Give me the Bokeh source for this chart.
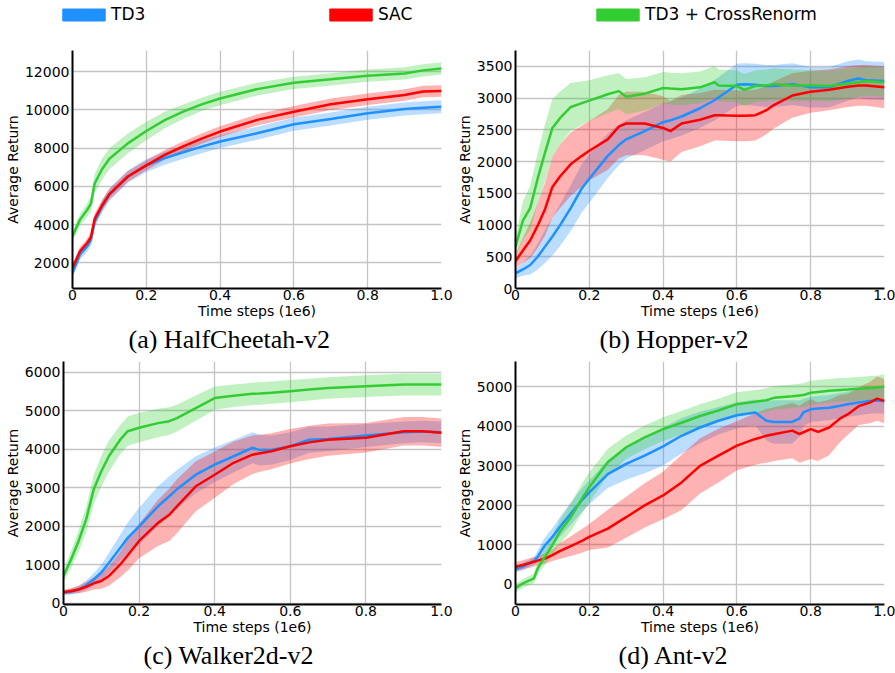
import numpy as np
from bokeh.plotting import figure
from bokeh.layouts import column, row
from bokeh.models import Range1d, FixedTicker, Title, Legend, LegendItem
from bokeh.embed import file_html
from bokeh.resources import INLINE

# ---------------- data ----------------
series_names = ["TD3", "SAC", "TD3 + CrossRenorm"]
series_colors = ["#1E90FF", "#FF0000", "#32CD32"]

x_ticks = [0, 0.2, 0.4, 0.6, 0.8, 1.0]
x_tick_labels = ["0", "0.2", "0.4", "0.6", "0.8", "1.0"]

# (a) HalfCheetah-v2
x_a = [0, 0.02, 0.04, 0.05, 0.06, 0.08, 0.1, 0.15, 0.2, 0.25, 0.3, 0.35, 0.4, 0.5, 0.6, 0.7, 0.8, 0.9, 0.95, 1.0]
td3_a = [1480, 2430, 2870, 3200, 4150, 4950, 5570, 6520, 7100, 7480, 7790, 8080, 8350, 8780, 9250, 9530, 9830, 10050, 10120, 10170]
td3_a_std = [250, 270, 290, 300, 320, 330, 330, 330, 340, 340, 340, 340, 340, 340, 340, 340, 340, 340, 340, 340]
sac_a = [1740, 2600, 3040, 3350, 4300, 5000, 5600, 6520, 7100, 7650, 8090, 8500, 8870, 9480, 9910, 10300, 10560, 10780, 10960, 10990]
sac_a_std = [200, 220, 240, 250, 260, 270, 270, 270, 260, 260, 260, 270, 280, 290, 300, 300, 300, 300, 300, 300]
cr_a = [3400, 4250, 4780, 5100, 6150, 6900, 7450, 8250, 8900, 9470, 9910, 10290, 10600, 11090, 11420, 11600, 11790, 11910, 12070, 12170]
cr_a_std = [250, 300, 350, 400, 500, 550, 550, 520, 480, 430, 380, 350, 350, 330, 320, 320, 320, 320, 320, 320]
y_ticks_a = [2000, 4000, 6000, 8000, 10000, 12000]

# (b) Hopper-v2
x_b = [0, 0.02, 0.04, 0.06, 0.08, 0.1, 0.12, 0.15, 0.18, 0.2, 0.25, 0.28, 0.3, 0.35, 0.4, 0.42,
       0.45, 0.5, 0.54, 0.55, 0.6, 0.62, 0.65, 0.68, 0.7, 0.75, 0.8, 0.85, 0.9, 0.93, 0.95, 1.0]
td3_b = [240, 300, 370, 500, 660, 820, 990, 1270, 1580, 1730, 2090, 2260, 2350, 2480, 2620, 2650,
         2710, 2840, 2970, 3010, 3210, 3220, 3210, 3190, 3190, 3220, 3170, 3170, 3270, 3310, 3280, 3270]
td3_b_std = [80, 100, 150, 200, 260, 300, 330, 360, 380, 380, 350, 320, 300, 300, 300, 300,
             300, 310, 320, 320, 330, 330, 330, 330, 330, 330, 320, 320, 310, 300, 300, 300]
sac_b = [430, 600, 760, 990, 1250, 1600, 1760, 1960, 2090, 2170, 2350, 2550, 2600, 2600, 2530, 2480,
         2600, 2660, 2730, 2730, 2720, 2720, 2730, 2810, 2890, 3040, 3100, 3130, 3180, 3200, 3200, 3170]
sac_b_std = [100, 200, 280, 350, 420, 480, 500, 500, 480, 470, 480, 500, 500, 500, 500, 480,
             450, 420, 400, 400, 400, 400, 400, 380, 370, 350, 330, 320, 320, 320, 320, 330]
cr_b = [660, 1070, 1270, 1730, 2140, 2530, 2680, 2860, 2920, 2960, 3060, 3110, 3020, 3070, 3160, 3150,
        3140, 3170, 3250, 3200, 3190, 3130, 3190, 3200, 3220, 3200, 3200, 3190, 3230, 3250, 3270, 3250]
cr_b_std = [150, 300, 350, 400, 450, 450, 420, 380, 340, 320, 300, 280, 280, 260, 250, 250,
            250, 250, 250, 250, 250, 250, 250, 250, 250, 250, 240, 240, 240, 230, 230, 230]
y_ticks_b = [0, 500, 1000, 1500, 2000, 2500, 3000, 3500]

# (c) Walker2d-v2
x_c = [0, 0.02, 0.04, 0.06, 0.08, 0.1, 0.12, 0.15, 0.17, 0.2, 0.25, 0.28, 0.3, 0.35, 0.4, 0.45,
       0.5, 0.52, 0.55, 0.6, 0.65, 0.7, 0.8, 0.9, 0.95, 1.0]
td3_c = [280, 300, 360, 470, 620, 800, 1050, 1440, 1700, 2000, 2520, 2780, 2960, 3340, 3600, 3820,
         4040, 3980, 3980, 4080, 4250, 4270, 4360, 4440, 4460, 4440]
td3_c_std = [60, 70, 90, 120, 160, 200, 260, 340, 400, 480, 520, 520, 500, 480, 450, 420,
             400, 400, 380, 360, 340, 320, 300, 280, 280, 280]
sac_c = [290, 320, 360, 430, 520, 580, 710, 1010, 1250, 1620, 2090, 2300, 2520, 3040, 3340, 3650,
         3860, 3900, 3950, 4080, 4180, 4250, 4300, 4470, 4470, 4430]
sac_c_std = [60, 80, 100, 130, 160, 200, 250, 330, 400, 450, 600, 680, 700, 650, 600, 550,
             500, 480, 470, 450, 430, 420, 380, 370, 370, 370]
cr_c = [710, 1140, 1620, 2180, 2960, 3430, 3820, 4250, 4470, 4560, 4680, 4730, 4810, 5070, 5330, 5390,
        5440, 5450, 5470, 5510, 5550, 5590, 5640, 5680, 5680, 5680]
cr_c_std = [150, 220, 280, 330, 380, 400, 400, 380, 380, 380, 370, 360, 350, 330, 300, 290,
            290, 290, 290, 290, 280, 280, 280, 280, 280, 280]
y_ticks_c = [0, 1000, 2000, 3000, 4000, 5000, 6000]

# (d) Ant-v2
x_d = [0, 0.02, 0.05, 0.06, 0.08, 0.1, 0.12, 0.15, 0.18, 0.2, 0.25, 0.3, 0.35, 0.4, 0.45, 0.5, 0.55,
       0.6, 0.65, 0.68, 0.7, 0.75, 0.77, 0.78, 0.8, 0.82, 0.85, 0.88, 0.9, 0.93, 0.96, 0.98, 1.0]
td3_d = [390, 450, 590, 700, 990, 1200, 1450, 1790, 2130, 2330, 2790, 3050, 3260, 3490, 3760, 3970, 4140,
         4280, 4350, 4140, 4110, 4110, 4200, 4350, 4430, 4450, 4470, 4520, 4560, 4600, 4640, 4650, 4640]
td3_d_std = [80, 90, 100, 150, 200, 220, 250, 280, 300, 300, 350, 400, 450, 480, 450, 400, 350,
             330, 330, 500, 550, 550, 450, 350, 320, 320, 320, 320, 320, 320, 320, 320, 320]
sac_d = [445, 490, 570, 600, 650, 740, 840, 970, 1100, 1200, 1410, 1700, 2000, 2250, 2580, 3000, 3260,
         3510, 3680, 3760, 3800, 3890, 3800, 3850, 3930, 3860, 3970, 4200, 4300, 4510, 4600, 4700, 4640]
sac_d_std = [120, 120, 120, 120, 130, 150, 200, 250, 300, 330, 480, 520, 560, 600, 700, 700, 680,
             620, 650, 680, 680, 700, 720, 740, 760, 740, 700, 600, 520, 480, 520, 560, 560]
cr_d = [-100, 25, 150, 400, 700, 990, 1330, 1700, 2170, 2460, 3090, 3470, 3720, 3930, 4090, 4260, 4400,
        4560, 4620, 4660, 4720, 4760, 4780, 4790, 4850, 4870, 4900, 4920, 4930, 4950, 4970, 4980, 5000]
cr_d_std = [100, 110, 120, 150, 200, 250, 300, 350, 380, 380, 340, 300, 300, 300, 300, 300, 300,
            300, 300, 300, 300, 300, 300, 300, 300, 300, 300, 300, 300, 300, 300, 300, 320]
y_ticks_d = [0, 1000, 2000, 3000, 4000, 5000]

FONT = "DejaVu Sans"


def make_panel(width, height, borders, y_range, y_ticks, x, series, caption, cap_offset, cap_standoff):
    left, right, top, bottom = borders
    p = figure(width=width, height=height, x_range=Range1d(0, 1), y_range=Range1d(*y_range),
               toolbar_location=None, output_backend="svg",
               min_border_left=left, min_border_right=right,
               min_border_top=top, min_border_bottom=bottom,
               outline_line_color=None, background_fill_color="white",
               border_fill_color="white")
    # grid
    p.xgrid.ticker = FixedTicker(ticks=x_ticks)
    p.ygrid.ticker = FixedTicker(ticks=y_ticks)
    p.grid.grid_line_color = "#c4c4c4"
    p.grid.grid_line_width = 1.3
    # axes
    p.xaxis.ticker = FixedTicker(ticks=x_ticks)
    p.xaxis.major_label_overrides = {t: lab for t, lab in zip(x_ticks, x_tick_labels)}
    p.yaxis.ticker = FixedTicker(ticks=y_ticks)
    p.xaxis.axis_label = "Time steps (1e6)"
    p.yaxis.axis_label = "Average Return"
    for ax in (p.xaxis, p.yaxis):
        ax.axis_line_color = "black"
        ax.axis_line_width = 2
        ax.major_tick_line_color = None
        ax.minor_tick_line_color = None
        ax.major_tick_out = 0
        ax.major_tick_in = 0
        ax.minor_tick_out = 0
        ax.minor_tick_in = 0
        ax.major_label_text_font = FONT
        ax.major_label_text_font_size = "14px"
        ax.major_label_text_color = "black"
        ax.axis_label_text_font = FONT
        ax.axis_label_text_font_size = "14px"
        ax.axis_label_text_font_style = "normal"
        ax.axis_label_text_color = "black"
    p.yaxis.major_label_standoff = 3
    p.yaxis.axis_label_standoff = 1
    p.xaxis.major_label_standoff = 1
    p.xaxis.axis_label_standoff = 0

    for (mean, std), color in zip(series, series_colors):
        m = np.array(mean, dtype=float)
        s = np.array(std, dtype=float)
        p.varea(x=x, y1=m - s, y2=m + s, fill_color=color, fill_alpha=0.3)
    for (mean, std), color in zip(series, series_colors):
        p.line(x=x, y=mean, line_color=color, line_width=2.5)

    p.add_layout(Title(text=caption, align="left", offset=cap_offset, standoff=cap_standoff,
                       text_font="Liberation Serif", text_font_size="26px",
                       text_font_style="normal", text_color="black"), "below")
    return p


pa = make_panel(453, 319, (72, 12, 12, 68), (660, 13110), y_ticks_a, x_a,
                [(td3_a, td3_a_std), (sac_a, sac_a_std), (cr_a, cr_a_std)],
                "(a) HalfCheetah-v2", 56, 2)
pb = make_panel(442, 319, (54, 11, 6, 69), (0, 3750), y_ticks_b, x_b,
                [(td3_b, td3_b_std), (sac_b, sac_b_std), (cr_b, cr_b_std)],
                "(b) Hopper-v2", 84, 2)
pc = make_panel(453, 315, (63, 12, 4, 68), (-30, 6280), y_ticks_c, x_c,
                [(td3_c, td3_c_std), (sac_c, sac_c_std), (cr_c, cr_c_std)],
                "(c) Walker2d-v2", 80, 2)
pd = make_panel(442, 315, (54, 11, 4, 68), (-510, 5640), y_ticks_d, x_d,
                [(td3_d, td3_d_std), (sac_d, sac_d_std), (cr_d, cr_d_std)],
                "(d) Ant-v2", 103, 2)

# legend strip (proxy boxes lie outside the visible range; only their legend swatches show)
lf = figure(width=895, height=38, x_range=Range1d(0, 1), y_range=Range1d(0, 1),
            toolbar_location=None, output_backend="svg", min_border=0,
            outline_line_color=None)
lf.axis.visible = False
lf.grid.visible = False
items = []
for name, color in zip(series_names, series_colors):
    r = lf.quad(left=[2], right=[3], top=[3], bottom=[2], fill_color=color, line_color=color)
    items.append(LegendItem(label=name, renderers=[r]))
leg = Legend(items=items, orientation="horizontal", location=(57, 14),
             glyph_width=53, glyph_height=15, label_standoff=1, label_width=213,
             label_height=15, spacing=0, padding=0, margin=0,
             border_line_color=None, background_fill_alpha=0,
             label_text_font=FONT, label_text_font_size="17px", label_text_color="black")
lf.add_layout(leg)

layout = column(lf, row(pa, pb), row(pc, pd))
open("out.html", "w").write(file_html(layout, INLINE))
